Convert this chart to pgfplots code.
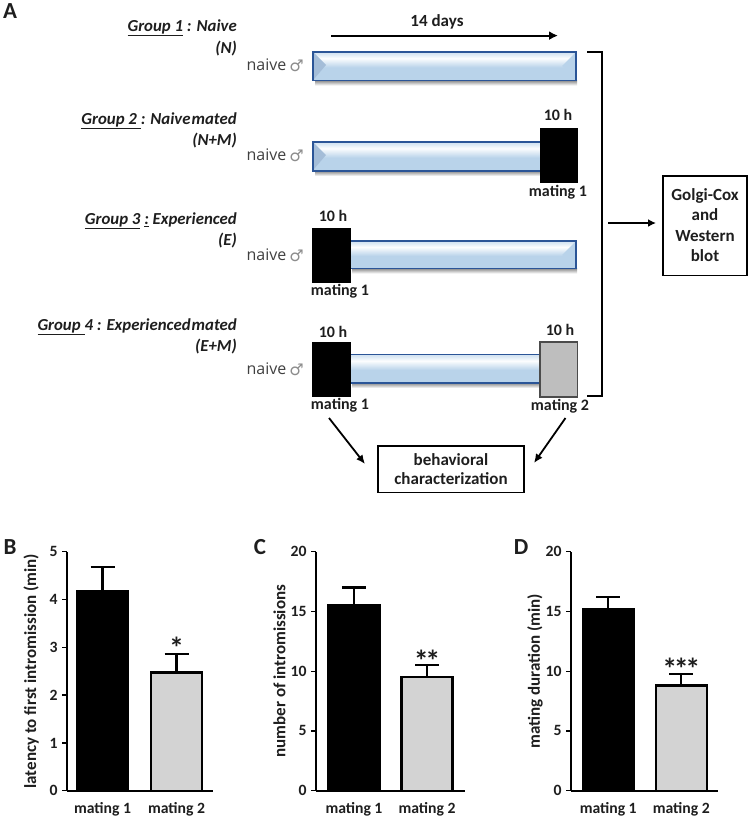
\documentclass[border=0pt]{standalone}
\usepackage{fontspec}
\setmainfont{Carlito}
\newfontfamily\naivefont{Open Sans}
\newfontfamily\symfont{DejaVu Sans}
\usepackage{pgfplots}
\pgfplotsset{compat=1.18}
\usetikzlibrary{arrows.meta}

\definecolor{barblue}{HTML}{B9D3EA}
\definecolor{barline}{HTML}{2B5597}
\definecolor{bevel}{HTML}{A4BDD8}
\definecolor{grayblock}{HTML}{BEBEBE}
\definecolor{graybar}{HTML}{D3D3D3}
\definecolor{inkgray}{HTML}{1E1E1E}

\pgfdeclareverticalshading{tube}{100bp}{
  color(0bp)=(barblue); color(48bp)=(barblue); color(53bp)=(barblue!70!white);
  color(64bp)=(white!96!barblue); color(72bp)=(barblue!55!white); color(75bp)=(barblue!65!white); color(100bp)=(barblue!65!white)}

% x1, top, x2, bottom in picture pixels
\newcommand{\tube}[4]{%
  \shade[top color=black!45, bottom color=white] (#1+2,-#4) rectangle (#3+1,-#4-5);
  \shade[shading=tube] (#1,-#2) rectangle (#3,-#4);
}
\newcommand{\tubeline}[4]{\draw[barline, line width=1.6pt] (#1,-#2) rectangle (#3,-#4);}
\newcommand{\tubeedges}[4]{%
  \draw[barline, line width=1.6pt] (#1,-#2) -- (#3,-#2);
  \draw[barline, line width=1.6pt] (#1,-#4) -- (#3,-#4);}
\newcommand{\bevelleft}[2]{\fill[bevel] (#1+1,-#2-1) -- (#1+13,-#2-13) -- (#1+1,-#2-27) -- cycle;}
\newcommand{\bevelright}[2]{\fill[barblue] (#1-1,-#2-1) -- (#1-14,-#2-14) -- (#1-1,-#2-22) -- cycle;}
\newcommand{\st}{*\kern-3.5pt}

\pgfplotsset{
  panel/.style={
    scale only axis, width=#1, height=239pt,
    axis x line=bottom, axis y line=left,
    axis line style={-, line width=1.6pt, black},
    ymin=0, xtick={0,1},
    xticklabels={mating 1, mating 2},
    x tick style={draw=none},
    y tick style={line width=1.4pt, black},
    tick align=outside, major tick length=5pt,
    xtick pos=bottom, ytick pos=left,
    tick label style={font=\fontsize{15.7}{17}\selectfont\bfseries, text=inkgray},
    /pgf/number format/assume math mode=true,
    x tick label style={yshift=-3pt},
    y tick label style={xshift=-1pt},
    every axis y label/.style={at={(axis description cs:-0.245,0.5)}, rotate=90, anchor=center,
      font=\fontsize{17}{18}\selectfont\bfseries, text=inkgray},
    clip=false,
  },
  matingbar/.style={ybar, bar shift=0pt, bar width=51pt, draw=black, line width=2.4pt, fill=#1,
    error bars/.cd, y dir=plus, y explicit,
    error bar style={line width=2.2pt, black},
    error mark options={rotate=90, line width=2.2pt, black, mark size=12pt}},
}

\begin{document}
\begin{tikzpicture}[x=1pt, y=1pt, font=\fontsize{16}{17}\selectfont]
\path[use as bounding box] (0,0) rectangle (750,-817);

% panel letters
\node[font=\fontsize{23}{24}\selectfont\bfseries, text=inkgray] at (10,-11) {A};
\node[font=\fontsize{23}{24}\selectfont\bfseries, text=inkgray] at (10,-547) {B};
\node[font=\fontsize{23}{24}\selectfont\bfseries, text=inkgray] at (260,-547) {C};
\node[font=\fontsize{23}{24}\selectfont\bfseries, text=inkgray] at (521,-547) {D};

% group titles
\begin{scope}[every node/.style={anchor=east, inner sep=0pt, text=inkgray, font=\fontsize{16.8}{18}\selectfont\bfseries\itshape}]
\node at (237,-28) {\underline{Group 1} : Naive};
\node at (237,-49) {(N)};
\node at (237,-121) {\underline{Group 2\ }: Naive\hspace{1pt}mated};
\node at (237,-141) {(N+M)};
\node at (237,-221) {\underline{Group 3} \underline{:} Experienced};
\node at (237,-241) {(E)};
\node at (237,-327) {\underline{Group\ }4 : Experienced\hspace{1pt}mated};
\node at (237,-347) {(E+M)};
\end{scope}

% naive male labels
\begin{scope}[every node/.style={anchor=east, inner sep=0pt}]
\foreach \yy in {65,155,255,369} {
  \node[text=inkgray!85, font=\fontsize{16}{17}\selectfont\naivefont] at (286.5,-\yy) {naive};
  \node[text=black!45, font=\fontsize{16}{16}\selectfont\symfont] at (304,-\yy-1) {♂};
}
\end{scope}

% 14 days arrow
\draw[-{Latex[length=9pt,width=9pt]}, line width=2pt] (331,-35.6) -- (558,-35.6);
\node[font=\fontsize{17}{18}\selectfont\bfseries, text=inkgray] at (437,-22) {14 days};

% group 1
\tube{313}{52}{576}{80.5}
\bevelleft{313}{52}
\bevelright{576}{52}
\tubeline{313}{52}{576}{80.5}
% group 2
\tube{313}{142}{541}{171}
\bevelleft{313}{142}
\tubeline{313}{142}{541}{171}
\fill[black] (540,-128) rectangle (578,-183);
% group 3
\tube{350}{241}{576}{268.5}
\bevelright{576}{241}
\tubeline{350}{241}{576}{268.5}
\fill[black] (312,-227.5) rectangle (351,-282.5);
% group 4
\tube{350}{354.5}{541}{383}
\tubeedges{350}{354.5}{541}{383}
\fill[black] (312,-341.5) rectangle (351,-397);
\draw[fill=grayblock, draw=inkgray!80, line width=1.2pt] (540,-342) rectangle (577.5,-397);

% block labels
\begin{scope}[every node/.style={text=inkgray, font=\fontsize{16}{18}\selectfont\bfseries}]
\node at (558,-115) {10 h};
\node at (333,-216) {10 h};
\node at (333,-332) {10 h};
\node at (560,-330) {10 h};
\node at (558,-192) {mating 1};
\node at (340,-291) {mating 1};
\node at (340,-405) {mating 1};
\node at (560,-406) {mating 2};
\end{scope}

% bracket and boxes
\draw[line width=1.8pt] (587,-52) -- (602,-52) -- (602,-396) -- (587,-396);
\draw[-{Latex[length=8pt,width=8pt]}, line width=1.8pt] (608,-223) -- (656,-223);
\draw[line width=1.8pt] (663,-176) rectangle (747,-275.5);
\begin{scope}[every node/.style={text=inkgray, font=\fontsize{17}{18}\selectfont\bfseries}]
\node at (705,-196) {Golgi-Cox};
\node at (705,-215) {and};
\node at (705,-236) {Western};
\node at (705,-256) {blot};
\node at (451,-459.5) {behavioral};
\node at (451,-478.5) {characterization};
\end{scope}
\draw[line width=1.8pt] (378,-446) rectangle (524,-492.5);
\draw[-{Latex[length=9pt,width=8pt]}, line width=1.8pt] (329,-418) -- (365,-464);
\draw[-{Latex[length=9pt,width=8pt]}, line width=1.8pt] (565.5,-418) -- (534,-463);

% panel B
\begin{axis}[panel=146pt, at={(67pt,-790.7pt)}, anchor=south west,
  xmin=-0.48, xmax=1.493, ymax=5, ytick={0,1,2,3,4,5},
  ylabel={latency to first intromission (min)}]
\addplot[matingbar=black] coordinates {(0,4.17) +- (0,0.51)};
\addplot[matingbar=graybar] coordinates {(1,2.47) +- (0,0.39)};
\node[font=\fontsize{30}{30}\selectfont\bfseries, text=inkgray] at (axis cs:1,3.0) {*};
\end{axis}

% panel C
\begin{axis}[panel=149pt, at={(316pt,-790.7pt)}, anchor=south west,
  xmin=-0.52, xmax=1.52, ymax=20, ytick={0,5,10,15,20},
  ylabel={number of intromissions}]
\addplot[matingbar=black] coordinates {(0,15.5) +- (0,1.5)};
\addplot[matingbar=graybar] coordinates {(1,9.5) +- (0,1.0)};
\node[font=\fontsize{30}{30}\selectfont\bfseries, text=inkgray] at (axis cs:1,10.9) {\st*};
\end{axis}

% panel D
\begin{axis}[panel=147pt, at={(571pt,-790.7pt)}, anchor=south west,
  xmin=-0.51, xmax=1.503, ymax=20, ytick={0,5,10,15,20},
  ylabel={mating duration (min)}]
\addplot[matingbar=black] coordinates {(0,15.2) +- (0,1.0)};
\addplot[matingbar=graybar] coordinates {(1,8.8) +- (0,1.0)};
\node[font=\fontsize{30}{30}\selectfont\bfseries, text=inkgray] at (axis cs:1,10.2) {\st\st*};
\end{axis}
\end{tikzpicture}
\end{document}
